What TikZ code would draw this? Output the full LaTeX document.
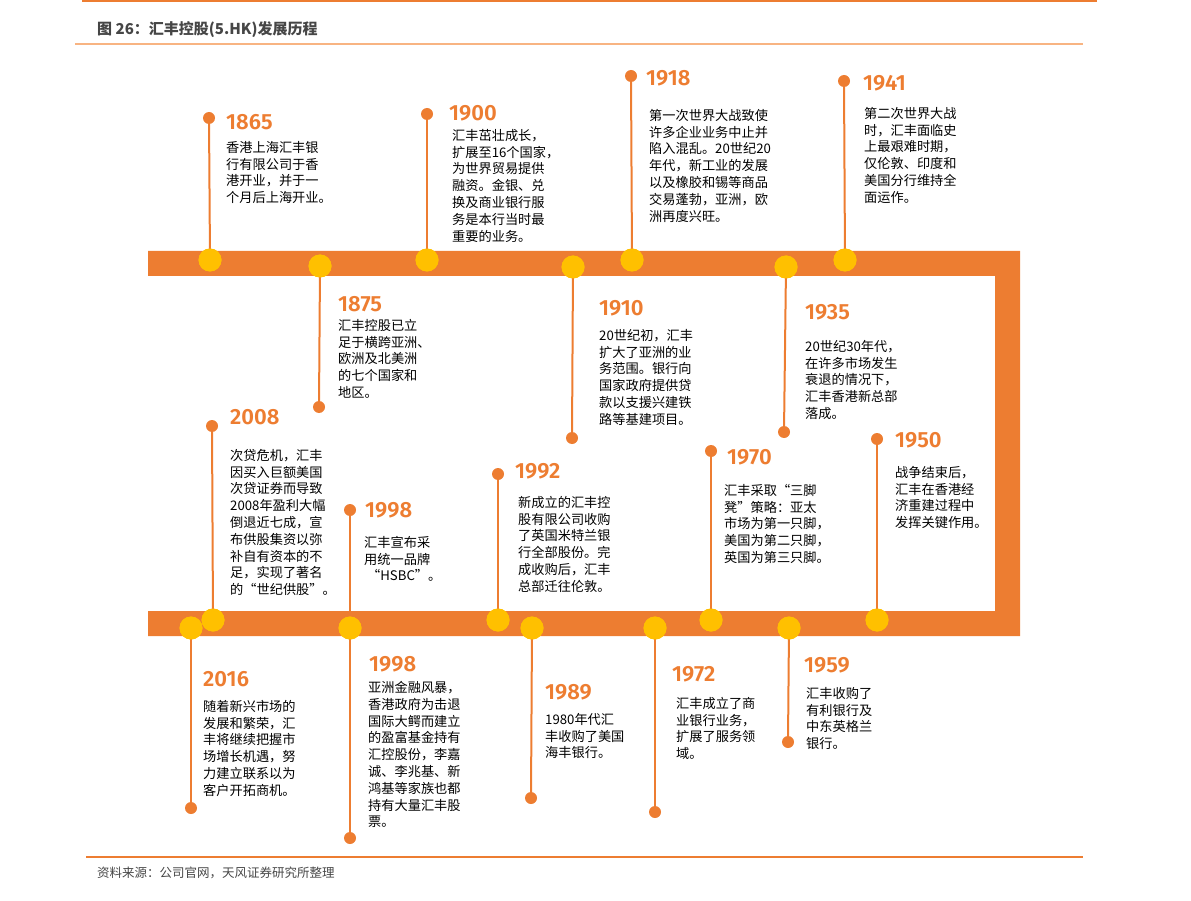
\documentclass[tikz,border=0pt]{standalone}
\usepackage{fontspec}
\setmainfont{Noto Sans CJK SC}
\newfontfamily\yearfont{Fira Sans}[BoldFont={Fira Sans SemiBold}]
\definecolor{og}{RGB}{237,125,49}
\definecolor{yl}{RGB}{255,192,0}
\definecolor{lo}{RGB}{248,180,130}
\definecolor{tg}{RGB}{70,70,70}
\begin{document}
\begin{tikzpicture}[x=1pt,y=-1pt,
  dot/.style={circle,fill=og,inner sep=0,minimum size=12},
  ball/.style={circle,fill=yl,inner sep=0,minimum size=23},
  stem/.style={og,line width=2},
  yr/.style={anchor=west,inner sep=0,text=og,font=\yearfont\bfseries\fontsize{22}{24}\selectfont},
  tx/.style={anchor=north west,inner sep=0,align=left,text=black,font=\fontsize{13.2}{16.8}\selectfont}]
\useasboundingbox (0,0) rectangle (1191,901);
% frame
\draw[og,line width=3] (82,1) -- (1097,1);
\draw[lo,line width=1.5] (75,44) -- (1083,44);
\node[anchor=west,inner sep=0,text=tg,font=\bfseries\fontsize{15}{17}\selectfont] (title) at (97,30) {图 26：汇丰控股(5.HK)发展历程};
\draw[og,line width=1.2] (86,857) -- (1083,857);
\node[anchor=west,inner sep=0,text=tg,font=\fontsize{12.5}{14}\selectfont] (src) at (97,873) {资料来源：公司官网，天风证券研究所整理};
\fill[og] (148,251) -- (1020,251) -- (1020,636) -- (148,636) -- (148,611) -- (995,611) -- (995,276) -- (148,276) -- cycle;
% ---- top, upward
\node[dot](d1865) at (209,118){}; \node[ball](b1865) at (210,260){}; \draw[stem](d1865)--(b1865.center); \node[ball] at (210,260){};
\node[dot](d1900) at (427,114){}; \node[ball](b1900) at (427,260){}; \draw[stem](d1900)--(b1900.center); \node[ball] at (427,260){};
\node[dot](d1918) at (631,76){}; \node[ball](b1918) at (632,260){}; \draw[stem](d1918)--(b1918.center); \node[ball] at (632,260){};
\node[dot](d1941) at (844,81){}; \node[ball](b1941) at (845,260){}; \draw[stem](d1941)--(b1941.center); \node[ball] at (845,260){};
% ---- top, downward
\node[dot](d1875) at (319,407){}; \node[ball](b1875) at (320,266){}; \draw[stem](d1875)--(b1875.center); \node[ball] at (320,266){};
\node[dot](d1910) at (572,438){}; \node[ball](b1910) at (573,267){}; \draw[stem](d1910)--(b1910.center); \node[ball] at (573,267){};
\node[dot](d1935) at (784,432){}; \node[ball](b1935) at (786,267){}; \draw[stem](d1935)--(b1935.center); \node[ball] at (786,267){};
% ---- bottom, upward
\node[dot](d2008) at (212,426){}; \node[ball](b2008) at (213,620){}; \draw[stem](d2008)--(b2008.center); \node[ball] at (213,620){};
\node[dot](d1998a) at (350,510){}; \coordinate (e1998a) at (350,612); \draw[stem](d1998a)--(e1998a);
\node[dot](d1992) at (498,474){}; \node[ball](b1992) at (498,620){}; \draw[stem](d1992)--(b1992.center); \node[ball] at (498,620){};
\node[dot](d1970) at (711,451){}; \node[ball](b1970) at (711,620){}; \draw[stem](d1970)--(b1970.center); \node[ball] at (711,620){};
\node[dot](d1950) at (877,439){}; \node[ball](b1950) at (877,620){}; \draw[stem](d1950)--(b1950.center); \node[ball] at (877,620){};
% ---- bottom, downward
\node[dot](d2016) at (191,808){}; \node[ball](b2016) at (191,628){}; \draw[stem](d2016)--(b2016.center); \node[ball] at (191,628){};
\node[dot](d1998b) at (350,838){}; \node[ball](b1998b) at (350,628){}; \draw[stem](d1998b)--(b1998b.center); \node[ball] at (350,628){};
\node[dot](d1989) at (531,798){}; \node[ball](b1989) at (532,628){}; \draw[stem](d1989)--(b1989.center); \node[ball] at (532,628){};
\node[dot](d1972) at (655,812){}; \node[ball](b1972) at (655,628){}; \draw[stem](d1972)--(b1972.center); \node[ball] at (655,628){};
\node[dot](d1959) at (788,742){}; \node[ball](b1959) at (789,628){}; \draw[stem](d1959)--(b1959.center); \node[ball] at (789,628){};
% ---- labels
\node[yr](y1865) at (226,122){1865};
\node[tx](t1865) at (226,141){香港上海汇丰银\\行有限公司于香\\港开业，并于一\\个月后上海开业。};
\node[yr](y1900) at (449,113){1900};
\node[tx](t1900) at (452,129){汇丰茁壮成长，\\扩展至16个国家，\\为世界贸易提供\\融资。金银、兑\\换及商业银行服\\务是本行当时最\\重要的业务。};
\node[yr](y1918) at (646,78){1918};
\node[tx](t1918) at (649,109){第一次世界大战致使\\许多企业业务中止并\\陷入混乱。20世纪20\\年代，新工业的发展\\以及橡胶和锡等商品\\交易蓬勃，亚洲，欧\\洲再度兴旺。};
\node[yr](y1941) at (863,83){1941};
\node[tx](t1941) at (864,107){第二次世界大战\\时，汇丰面临史\\上最艰难时期，\\仅伦敦、印度和\\美国分行维持全\\面运作。};
\node[yr](y1875) at (338,304){1875};
\node[tx](t1875) at (338,319){汇丰控股已立\\足于横跨亚洲、\\欧洲及北美洲\\的七个国家和\\地区。};
\node[yr](y1910) at (599,308){1910};
\node[tx](t1910) at (599,329){20世纪初，汇丰\\扩大了亚洲的业\\务范围。银行向\\国家政府提供贷\\款以支援兴建铁\\路等基建项目。};
\node[yr](y1935) at (805,312){1935};
\node[tx](t1935) at (805,340){20世纪30年代，\\在许多市场发生\\衰退的情况下，\\汇丰香港新总部\\落成。};
\node[yr](y2008) at (230,417){2008};
\node[tx](t2008) at (230,449){次贷危机，汇丰\\因买入巨额美国\\次贷证券而导致\\2008年盈利大幅\\倒退近七成，宣\\布供股集资以弥\\补自有资本的不\\足，实现了著名\\的“世纪供股”。};
\node[yr](y1998a) at (365,510){1998};
\node[tx](t1998a) at (364,536){汇丰宣布采\\用统一品牌\\\ “HSBC”。};
\node[yr](y1992) at (515,471){1992};
\node[tx](t1992) at (518,496){新成立的汇丰控\\股有限公司收购\\了英国米特兰银\\行全部股份。完\\成收购后，汇丰\\总部迁往伦敦。};
\node[yr](y1970) at (727,457){1970};
\node[tx](t1970) at (724,484){汇丰采取“三脚\\凳”策略：亚太\\市场为第一只脚，\\美国为第二只脚，\\英国为第三只脚。};
\node[yr](y1950) at (895,440){1950};
\node[tx](t1950) at (895,466){战争结束后，\\汇丰在香港经\\济重建过程中\\发挥关键作用。};
\node[yr](y2016) at (203,679){2016};
\node[tx](t2016) at (203,700){随着新兴市场的\\发展和繁荣，汇\\丰将继续把握市\\场增长机遇，努\\力建立联系以为\\客户开拓商机。};
\node[yr](y1998b) at (369,664){1998};
\node[tx](t1998b) at (368,681){亚洲金融风暴，\\香港政府为击退\\国际大鳄而建立\\的盈富基金持有\\汇控股份，李嘉\\诚、李兆基、新\\鸿基等家族也都\\持有大量汇丰股\\票。};
\node[yr](y1989) at (545,692){1989};
\node[tx](t1989) at (545,713){1980年代汇\\丰收购了美国\\海丰银行。};
\node[yr](y1972) at (672,674){1972};
\node[tx](t1972) at (676,697){汇丰成立了商\\业银行业务，\\扩展了服务领\\域。};
\node[yr](y1959) at (804,665){1959};
\node[tx](t1959) at (806,687){汇丰收购了\\有利银行及\\中东英格兰\\银行。};
\end{tikzpicture}
\end{document}
